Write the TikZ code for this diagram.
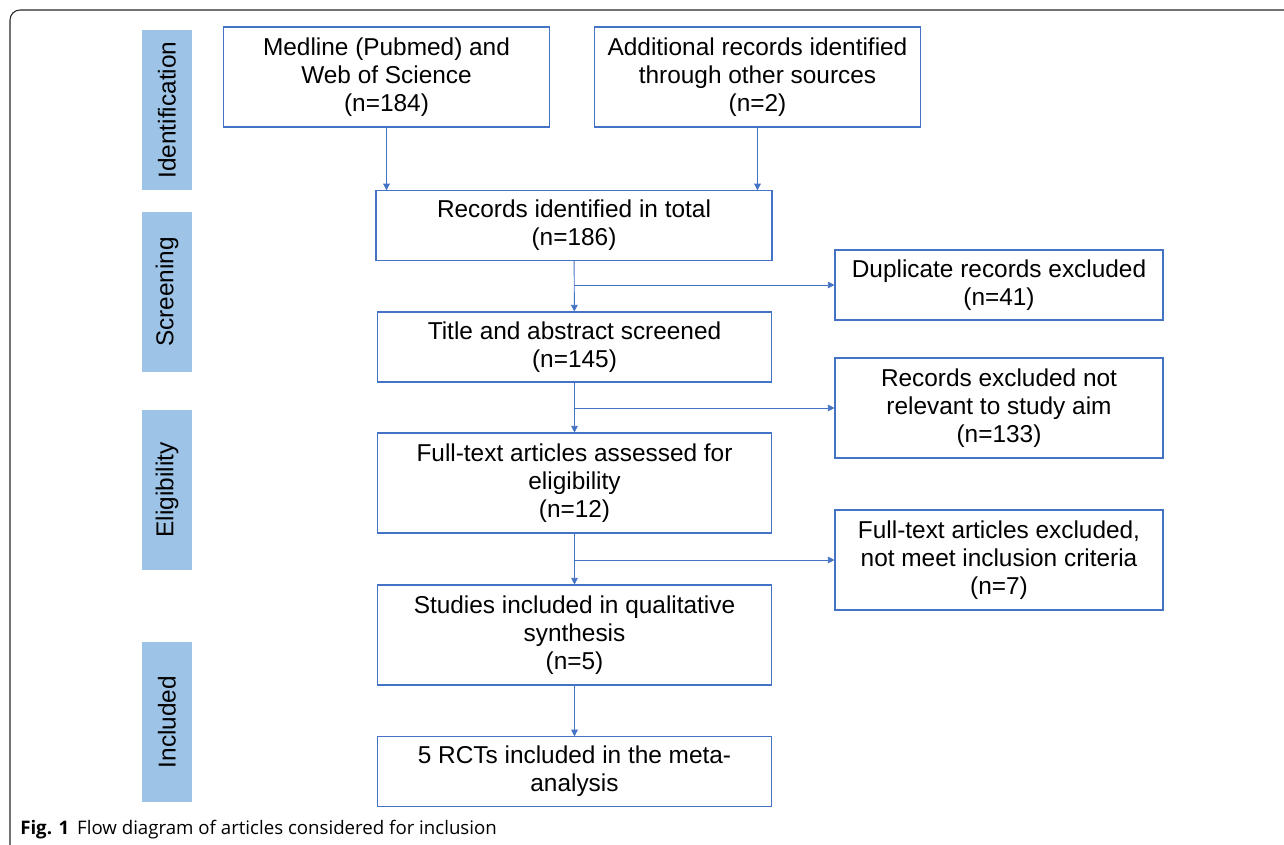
\documentclass[tikz,border=0pt]{standalone}
\usepackage{fontspec}
\setmainfont{Liberation Sans}
\newfontfamily\capfont{Open Sans}
\usetikzlibrary{arrows.meta}
\definecolor{boxblue}{HTML}{4472C4}
\definecolor{stagefill}{HTML}{9DC3E6}
\begin{document}
\begin{tikzpicture}[x=0.75pt, y=-0.75pt,
    box/.style={draw=boxblue, line width=0.8pt, align=center, inner sep=0pt,
      font=\fontsize{18.3}{21}\selectfont},
    stage/.style={fill=stagefill, rotate=90, inner sep=0pt, minimum width=120pt,
      minimum height=37.5pt, font=\fontsize{18.3}{21}\selectfont},
    arr/.style={draw=boxblue, line width=0.7pt, -{Triangle[length=5pt, width=5pt]}}
]
\useasboundingbox (0,0) rectangle (1284,845);
% outer frame
\draw[line width=0.8pt, black!85, rounded corners=7.5pt] (10,860) -- (10,10) -- (1300,10);

% stages
\node[stage] (ident) at (167,110) {Identification};
\node[stage] (screen) at (167,292) {Screening};
\node[stage] (elig) at (167,490) {Eligibility};
\node[stage] (incl) at (167,722) {Included};

% boxes
\node[box, minimum width=245pt, minimum height=75pt] (medline) at (386.5,77)
  {Medline (Pubmed) and\\Web of Science\\(n=184)};
\node[box, minimum width=244pt, minimum height=75pt] (other) at (757.5,77)
  {Additional records identified\\through other sources\\(n=2)};
\node[box, minimum width=297pt, minimum height=52pt] (total) at (574,225.5)
  {Records identified in total\\(n=186)};
\node[box, minimum width=246pt, minimum height=52.5pt] (dup) at (999,285)
  {Duplicate records excluded\\(n=41)};
\node[box, minimum width=296pt, minimum height=52.5pt] (title) at (574.5,347)
  {Title and abstract screened\\(n=145)};
\node[box, minimum width=246pt, minimum height=75pt] (notrel) at (999,408)
  {Records excluded not\\relevant to study aim\\(n=133)};
\node[box, minimum width=296pt, minimum height=75pt] (fulltext) at (574.5,483)
  {Full-text articles assessed for\\eligibility\\(n=12)};
\node[box, minimum width=246pt, minimum height=75pt] (ftexcl) at (999,560)
  {Full-text articles excluded,\\not meet inclusion criteria\\(n=7)};
\node[box, minimum width=296pt, minimum height=75pt] (studies) at (574.5,635)
  {Studies included in qualitative\\synthesis\\(n=5)};
\node[box, minimum width=296pt, minimum height=52pt] (rcts) at (574.5,771.5)
  {5 RCTs included in the meta-\\analysis};

% arrows
\draw[arr] (medline.south) -- (medline.south |- total.north);
\draw[arr] (other.south) -- (other.south |- total.north);
\draw[arr] (total) -- (title);
\draw[arr] (total.south |- dup.west) -- (dup.west);
\draw[arr] (title) -- (fulltext);
\draw[arr] (title.south |- notrel.west) -- (notrel.west);
\draw[arr] (fulltext) -- (studies);
\draw[arr] (fulltext.south |- ftexcl.west) -- (ftexcl.west);
\draw[arr] (studies) -- (rcts);

% caption
\node[anchor=base west, inner sep=0pt, font=\capfont\fontsize{14}{16}\selectfont] (caption) at (20,834)
  {\textbf{Fig. 1}\hspace{6pt}Flow diagram of articles considered for inclusion};
\end{tikzpicture}
\end{document}
